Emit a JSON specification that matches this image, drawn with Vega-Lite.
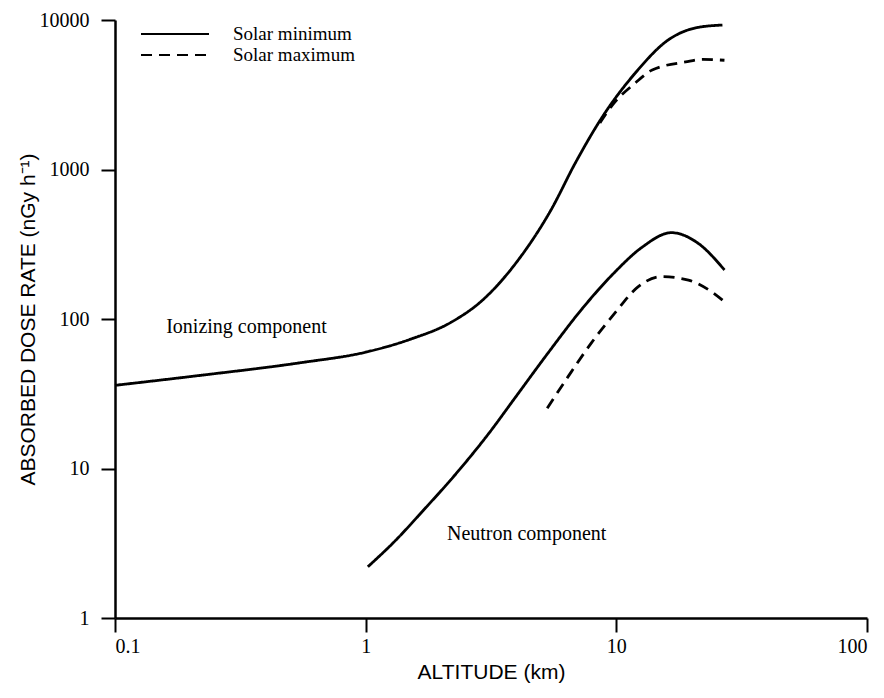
{
  "$schema": "https://vega.github.io/schema/vega-lite/v6.json",
  "width": 752,
  "height": 598,
  "autosize": {"type": "none"},
  "padding": {"left": 115, "top": 20, "right": 17, "bottom": 80},
  "background": "white",
  "config": {
    "view": {"stroke": null},
    "axis": {
      "grid": false,
      "domainColor": "black",
      "domainWidth": 2.5,
      "tickColor": "black",
      "tickWidth": 2,
      "tickSize": 14,
      "labelColor": "black",
      "labelFont": "Liberation Serif",
      "labelFontSize": 20,
      "titleColor": "black",
      "titleFont": "Liberation Sans",
      "titleFontSize": 21,
      "titleFontWeight": "normal"
    }
  },
  "datasets": {
    "curves": [
      {"component": "Ionizing", "cycle": "Solar minimum", "altitude": 0.1, "dose": 36},
      {"component": "Ionizing", "cycle": "Solar minimum", "altitude": 0.22, "dose": 42},
      {"component": "Ionizing", "cycle": "Solar minimum", "altitude": 0.55, "dose": 51},
      {"component": "Ionizing", "cycle": "Solar minimum", "altitude": 1.0, "dose": 60},
      {"component": "Ionizing", "cycle": "Solar minimum", "altitude": 1.5, "dose": 73},
      {"component": "Ionizing", "cycle": "Solar minimum", "altitude": 2.19, "dose": 95},
      {"component": "Ionizing", "cycle": "Solar minimum", "altitude": 2.9, "dose": 132},
      {"component": "Ionizing", "cycle": "Solar minimum", "altitude": 4.06, "dose": 248},
      {"component": "Ionizing", "cycle": "Solar minimum", "altitude": 5.5, "dose": 540},
      {"component": "Ionizing", "cycle": "Solar minimum", "altitude": 6.86, "dose": 1105},
      {"component": "Ionizing", "cycle": "Solar minimum", "altitude": 8.79, "dose": 2245},
      {"component": "Ionizing", "cycle": "Solar minimum", "altitude": 11.9, "dose": 4420},
      {"component": "Ionizing", "cycle": "Solar minimum", "altitude": 16.1, "dose": 7350},
      {"component": "Ionizing", "cycle": "Solar minimum", "altitude": 21, "dose": 8900},
      {"component": "Ionizing", "cycle": "Solar minimum", "altitude": 26.5, "dose": 9250},
      {"component": "Ionizing", "cycle": "Solar maximum", "altitude": 8.6, "dose": 2050},
      {"component": "Ionizing", "cycle": "Solar maximum", "altitude": 9.64, "dose": 2700},
      {"component": "Ionizing", "cycle": "Solar maximum", "altitude": 11.9, "dose": 3790},
      {"component": "Ionizing", "cycle": "Solar maximum", "altitude": 13.9, "dose": 4630},
      {"component": "Ionizing", "cycle": "Solar maximum", "altitude": 18.9, "dose": 5240},
      {"component": "Ionizing", "cycle": "Solar maximum", "altitude": 22.1, "dose": 5450},
      {"component": "Ionizing", "cycle": "Solar maximum", "altitude": 27, "dose": 5380},
      {"component": "Neutron", "cycle": "Solar minimum", "altitude": 1.02, "dose": 2.2},
      {"component": "Neutron", "cycle": "Solar minimum", "altitude": 1.32, "dose": 3.32},
      {"component": "Neutron", "cycle": "Solar minimum", "altitude": 1.69, "dose": 5.2},
      {"component": "Neutron", "cycle": "Solar minimum", "altitude": 2.29, "dose": 9.2},
      {"component": "Neutron", "cycle": "Solar minimum", "altitude": 3.11, "dose": 17.3},
      {"component": "Neutron", "cycle": "Solar minimum", "altitude": 3.92, "dose": 29.3},
      {"component": "Neutron", "cycle": "Solar minimum", "altitude": 5.33, "dose": 59},
      {"component": "Neutron", "cycle": "Solar minimum", "altitude": 7.24, "dose": 115},
      {"component": "Neutron", "cycle": "Solar minimum", "altitude": 9.84, "dose": 205},
      {"component": "Neutron", "cycle": "Solar minimum", "altitude": 12.6, "dose": 300},
      {"component": "Neutron", "cycle": "Solar minimum", "altitude": 16.6, "dose": 378},
      {"component": "Neutron", "cycle": "Solar minimum", "altitude": 21.2, "dose": 321},
      {"component": "Neutron", "cycle": "Solar minimum", "altitude": 27, "dose": 213},
      {"component": "Neutron", "cycle": "Solar maximum", "altitude": 5.3, "dose": 25.3},
      {"component": "Neutron", "cycle": "Solar maximum", "altitude": 6.41, "dose": 41},
      {"component": "Neutron", "cycle": "Solar maximum", "altitude": 7.94, "dose": 69},
      {"component": "Neutron", "cycle": "Solar maximum", "altitude": 9.84, "dose": 109},
      {"component": "Neutron", "cycle": "Solar maximum", "altitude": 12.2, "dose": 164},
      {"component": "Neutron", "cycle": "Solar maximum", "altitude": 15.1, "dose": 192},
      {"component": "Neutron", "cycle": "Solar maximum", "altitude": 19.4, "dose": 182},
      {"component": "Neutron", "cycle": "Solar maximum", "altitude": 24.0, "dose": 152},
      {"component": "Neutron", "cycle": "Solar maximum", "altitude": 27.5, "dose": 127}
    ],
    "labels": [
      {"label": "Ionizing component", "altitude": 0.16, "dose": 80},
      {"label": "Neutron component", "altitude": 2.11, "dose": 3.32}
    ]
  },
  "layer": [
    {
      "data": {"name": "curves"},
      "mark": {"type": "line", "interpolate": "monotone", "strokeWidth": 2.8, "color": "black"},
      "encoding": {
        "x": {
          "field": "altitude",
          "type": "quantitative",
          "scale": {"type": "log", "domain": [0.1, 100], "nice": false},
          "axis": {
            "values": [0.1, 1, 10, 100],
            "format": "~g",
            "labelPadding": 4,
            "title": "ALTITUDE (km)",
            "titleBaseline": "alphabetic",
            "titleY": 60
          }
        },
        "y": {
          "field": "dose",
          "type": "quantitative",
          "scale": {"type": "log", "domain": [1, 10000], "nice": false},
          "axis": {
            "values": [1, 10, 100, 1000, 10000],
            "format": "d",
            "labelPadding": 12,
            "title": "ABSORBED DOSE RATE (nGy h⁻¹)",
            "titleX": -87,
            "titleY": 299,
            "titleAngle": -90,
            "titleAlign": "center",
            "titleBaseline": "middle"
          }
        },
        "detail": {"field": "component", "type": "nominal"},
        "strokeDash": {
          "field": "cycle",
          "type": "nominal",
          "scale": {"domain": ["Solar minimum", "Solar maximum"], "range": [[1, 0], [11, 7]]},
          "legend": {
            "orient": "none",
            "legendX": 50,
            "legendY": 4,
            "title": null,
            "symbolType": "M-4,0L4,0",
            "symbolSize": 289,
            "symbolStrokeWidth": 2.2,
            "symbolStrokeColor": "black",
            "labelFont": "Liberation Serif",
            "labelFontSize": 19,
            "labelColor": "black",
            "labelOffset": 48,
            "rowPadding": 1
          }
        }
      }
    },
    {
      "data": {"name": "labels"},
      "mark": {"type": "text", "align": "left", "baseline": "alphabetic", "font": "Liberation Serif", "fontSize": 20, "color": "black"},
      "encoding": {
        "x": {"field": "altitude", "type": "quantitative"},
        "y": {"field": "dose", "type": "quantitative"},
        "text": {"field": "label", "type": "nominal"}
      }
    }
  ]
}
